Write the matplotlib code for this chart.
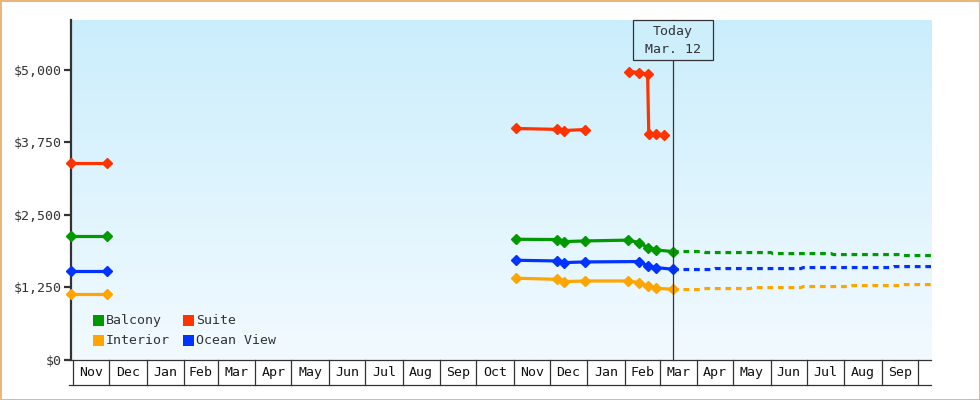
import matplotlib
matplotlib.use("Agg")
import matplotlib.pyplot as plt
import matplotlib.dates as mdates
from matplotlib.patches import Rectangle
from matplotlib.lines import Line2D
import numpy as np
import datetime as dt

# ---------------- data ----------------
series_names = ["Balcony", "Suite", "Interior", "Ocean View"]
series_colors = {"Balcony": "#009a00", "Suite": "#ff3300",
                 "Interior": "#ffa500", "Ocean View": "#0033ff"}

# historical segment 1 (previous season)
seg1_dates = ["2022-10-30", "2022-11-29"]
seg1_balcony = [2145, 2145]
seg1_suite = [3403, 3403]
seg1_interior = [1145, 1145]
seg1_ocean = [1541, 1541]

# historical segment 2 (current season)
seg2_balcony_dates = ["2023-11-03", "2023-12-07", "2023-12-13", "2023-12-30",
                      "2024-02-04", "2024-02-13", "2024-02-20", "2024-02-27", "2024-03-12"]
seg2_balcony = [2081, 2076, 2041, 2052, 2066, 2024, 1938, 1897, 1869]

seg2_ocean_dates = ["2023-11-03", "2023-12-07", "2023-12-13", "2023-12-30",
                    "2024-02-13", "2024-02-20", "2024-02-27", "2024-03-12"]
seg2_ocean = [1719, 1707, 1679, 1690, 1697, 1621, 1593, 1564]

seg2_interior_dates = ["2023-11-03", "2023-12-07", "2023-12-13", "2023-12-30",
                       "2024-02-04", "2024-02-13", "2024-02-20", "2024-02-27", "2024-03-12"]
seg2_interior = [1409, 1391, 1352, 1362, 1362, 1334, 1276, 1236, 1219]

seg2_suite_dates_a = ["2023-11-03", "2023-12-07", "2023-12-13", "2023-12-30"]
seg2_suite_a = [3990, 3975, 3955, 3972]
seg2_suite_dates_b = ["2024-02-05", "2024-02-13", "2024-02-20", "2024-02-21",
                      "2024-02-27", "2024-03-05"]
seg2_suite_b = [4972, 4955, 4926, 3903, 3891, 3874]

# forecast (dashed)
fc_balcony_dates = ["2024-03-12", "2024-04-06", "2024-04-08", "2024-06-01", "2024-06-03",
                    "2024-07-21", "2024-07-23", "2024-09-17", "2024-09-19", "2024-10-12"]
fc_balcony = [1869, 1869, 1852, 1852, 1834, 1834, 1817, 1817, 1800, 1800]
fc_ocean_dates = ["2024-03-12", "2024-04-14", "2024-04-16", "2024-06-26", "2024-06-28",
                  "2024-09-09", "2024-09-11", "2024-10-12"]
fc_ocean = [1559, 1559, 1576, 1576, 1593, 1593, 1610, 1610]
fc_interior_dates = ["2024-03-12", "2024-04-04", "2024-04-06", "2024-05-15", "2024-05-17",
                     "2024-06-26", "2024-06-28", "2024-08-06", "2024-08-08",
                     "2024-09-17", "2024-09-19", "2024-10-12"]
fc_interior = [1214, 1214, 1231, 1231, 1248, 1248, 1266, 1266, 1283, 1283, 1300, 1300]

y_ticks = [0, 1250, 2500, 3750, 5000]
y_tick_labels = ["$0", "$1,250", "$2,500", "$3,750", "$5,000"]
today_date = "2024-03-12"
today_label = "Today\nMar. 12"
x_start = "2022-11-01"
x_end = "2024-10-12"
y_max = 5860

# ---------------- drawing ----------------
def d(lst):
    return [mdates.date2num(dt.datetime.strptime(s, "%Y-%m-%d")) for s in lst]

FONT = "DejaVu Sans Mono"
TXT = "#333333"
W, H = 980, 400
fig = plt.figure(figsize=(W / 100, H / 100), dpi=100)
fig.patch.set_facecolor("white")
ax = fig.add_axes([71 / W, 40 / H, (931 - 71) / W, 340 / H])

x0 = mdates.date2num(dt.datetime.strptime(x_start, "%Y-%m-%d")) - 1.66
x1 = mdates.date2num(dt.datetime.strptime(x_end, "%Y-%m-%d")) - 0.2
ax.set_xlim(x0, x1)
ax.set_ylim(0, y_max)

# gradient background
grad = np.linspace(0, 1, 256).reshape(-1, 1)
top = np.array([203, 238, 252]) / 255
bot = np.array([242, 250, 255]) / 255
img = top[None, None, :] * (1 - grad[:, :, None]) + bot[None, None, :] * grad[:, :, None]
ax.imshow(img, extent=[0, 1, 0, 1], transform=ax.transAxes, aspect="auto", zorder=0)

lw = 2.3
solid = dict(lw=lw, marker="D", ms=5.1, mew=1.0, solid_capstyle="butt", zorder=3, clip_on=False)
dash = dict(lw=lw, linestyle=(0, (1.8, 1.5)), dash_capstyle="butt", zorder=3)

c = series_colors
# segment 1
ax.plot(d(seg1_dates), seg1_suite, color=c["Suite"], **solid)
ax.plot(d(seg1_dates), seg1_balcony, color=c["Balcony"], **solid)
ax.plot(d(seg1_dates), seg1_ocean, color=c["Ocean View"], **solid)
ax.plot(d(seg1_dates), seg1_interior, color=c["Interior"], **solid)
# segment 2
ax.plot(d(seg2_suite_dates_a), seg2_suite_a, color=c["Suite"], **solid)
ax.plot(d(seg2_suite_dates_b), seg2_suite_b, color=c["Suite"], **solid)
ax.plot(d(seg2_balcony_dates), seg2_balcony, color=c["Balcony"], **solid)
ax.plot(d(seg2_ocean_dates), seg2_ocean, color=c["Ocean View"], **solid)
ax.plot(d(seg2_interior_dates), seg2_interior, color=c["Interior"], **solid)
# forecast
ax.plot(d(fc_balcony_dates), fc_balcony, color=c["Balcony"], **dash)
ax.plot(d(fc_ocean_dates), fc_ocean, color=c["Ocean View"], **dash)
ax.plot(d(fc_interior_dates), fc_interior, color=c["Interior"], **dash)

# axes styling
for s in ["top", "right"]:
    ax.spines[s].set_visible(False)
ax.spines["left"].set_color(TXT)
ax.spines["left"].set_linewidth(1.6)
ax.spines["bottom"].set_color(TXT)
ax.spines["bottom"].set_linewidth(0.9)
ax.set_yticks(y_ticks)
ax.set_yticklabels(y_tick_labels, fontfamily=FONT, fontsize=9.5, color=TXT)
ax.tick_params(axis="y", length=5, width=1.6, color=TXT, pad=2)
ax.set_xticks([])

# month cells below axis
cell_h = 25 / 340
months = []
m = dt.date(2022, 11, 1)
while True:
    months.append(m)
    if m >= dt.date(2024, 10, 1):
        break
    m = dt.date(m.year + (m.month // 12), m.month % 12 + 1, 1)
bx = ax.get_xaxis_transform()
for i, mo in enumerate(months):
    xs = mdates.date2num(mo)
    ax.add_line(Line2D([xs, xs], [0, -cell_h], transform=bx, color=TXT, lw=0.9, clip_on=False))
    if i + 1 < len(months):
        xe = mdates.date2num(months[i + 1])
        mid = (xs + xe) / 2
        if mid < x1:
            ax.text(mid, -cell_h / 2, mo.strftime("%b"), transform=bx, ha="center", va="center",
                    fontfamily=FONT, fontsize=9.5, color="#111111")
ax.add_line(Line2D([-0.002, 1], [-cell_h, -cell_h], transform=ax.transAxes, color=TXT, lw=0.9,
                   clip_on=False))

# today line and box
tx = mdates.date2num(dt.datetime.strptime(today_date, "%Y-%m-%d"))
ax.add_line(Line2D([tx, tx], [0, 1], transform=bx, color=TXT, lw=0.9, zorder=4, clip_on=False))
fig.canvas.draw()
px = ax.transData.transform((tx, 0))[0]
fig.patches.append(Rectangle(((px - 40) / W, 340 / H), 80 / W, 40 / H, transform=fig.transFigure,
                             facecolor="#cdeffc", edgecolor=TXT, lw=0.9, zorder=5))
lines = today_label.split("\n")
fig.text(px / W, (400 - 32) / H, lines[0], ha="center", va="center", fontfamily=FONT,
         fontsize=9.5, color=TXT, zorder=6)
fig.text(px / W, (400 - 49.5) / H, lines[1], ha="center", va="center", fontfamily=FONT,
         fontsize=9.5, color=TXT, zorder=6)

# legend (manual)
leg_items = [("Balcony", 93, 315), ("Suite", 183, 315), ("Interior", 93, 335), ("Ocean View", 183, 335)]
for name, lx, ly in leg_items:
    fig.patches.append(Rectangle((lx / W, (400 - ly - 11) / H), 11 / W, 11 / H, transform=fig.transFigure,
                                 facecolor=c[name], edgecolor="none", zorder=5))
    fig.text((lx + 13) / W, (400 - ly - 5.5) / H, name, ha="left", va="center", fontfamily=FONT,
             fontsize=9.5, color=TXT, zorder=6)

# outer border
fig.patches.append(Rectangle((0.5 / W, 0.5 / H), (W - 1) / W, (H - 1) / H, transform=fig.transFigure,
                             facecolor="none", edgecolor="#e8a862", lw=1.2, zorder=10))

fig.savefig("out.png", dpi=100)
